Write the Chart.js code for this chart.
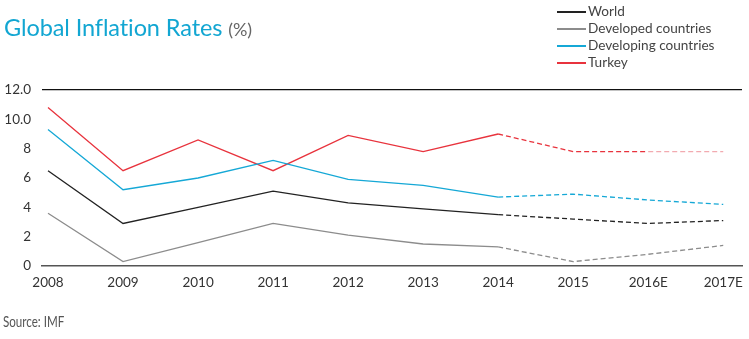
<!DOCTYPE html>
<html>
<head>
<meta charset="utf-8">
<script src="https://cdn.jsdelivr.net/npm/chart.js@4"></script>
<style>
    html, body { margin: 0; padding: 0; background: #fff; }
    #wrap { position: relative; width: 749px; height: 339px; overflow: hidden; }
    #chart { position: absolute; left: 0; top: 0; }
    #title {
        position: absolute; left: 4px; top: 13px;
        font-family: Lato, sans-serif; font-size: 23.5px; color: #12a6d2;
        white-space: nowrap; letter-spacing: -0.1px;
    }
    #title span { color: #666; font-size: 18px; }
    #legend {
        position: absolute; left: 557px; top: 3px;
        font-family: Lato, sans-serif; font-size: 13.6px; color: #444;
    }
    .item { position: relative; height: 17px; line-height: 17px; padding-left: 31px; white-space: nowrap; }
    .swatch { position: absolute; left: 0; top: 8px; width: 29px; height: 2px; }
    #source {
        position: absolute; left: 3px; top: 313px;
        font-family: Lato, sans-serif; font-size: 14.5px; color: #555;
        transform: scaleX(0.8); transform-origin: left top;
    }
</style>
</head>
<body>
<div id="wrap">
    <canvas id="chart" width="749" height="339"></canvas>
    <div id="title">Global Inflation Rates <span>(%)</span></div>
    <div id="legend"></div>
    <div id="source">Source: IMF</div>
</div>
<script>
const years = ['2008', '2009', '2010', '2011', '2012', '2013', '2014', '2015', '2016E', '2017E'];
const seriesNames = ['World', 'Developed countries', 'Developing countries', 'Turkey'];
const seriesColors = ['#222222', '#8c8c8c', '#15a8d6', '#e8333d'];

const world = [6.5, 2.9, 4.0, 5.1, 4.3, 3.9, 3.5, 3.2, 2.9, 3.1];
const developed = [3.6, 0.3, 1.6, 2.9, 2.1, 1.5, 1.3, 0.3, 0.8, 1.4];
const developing = [9.3, 5.2, 6.0, 7.2, 5.9, 5.5, 4.7, 4.9, 4.5, 4.2];
const turkey = [10.8, 6.5, 8.6, 6.5, 8.9, 7.8, 9.0, 7.8, 7.8, 7.8];

const yTicks = [0, 2, 4, 6, 8, 10, 12];

// estimates start after 2014, drawn dashed
const firstForecast = years.indexOf('2014');

function makeDataset(name, values, color) {
    return {
        label: name,
        data: values.map((v, i) => ({ x: i, y: v })),
        borderColor: color,
        borderWidth: 1.3,
        pointRadius: 0,
        tension: 0,
        segment: {
            borderDash: ctx => ctx.p0DataIndex >= firstForecast ? [5, 3] : undefined,
            borderColor: ctx => (name === 'Turkey' && ctx.p0DataIndex >= years.length - 2) ? '#f2aab0' : undefined
        }
    };
}

const allSeries = [world, developed, developing, turkey];
const datasets = allSeries.map((vals, i) => makeDataset(seriesNames[i], vals, seriesColors[i]));

// legend as plain html
const legend = document.getElementById('legend');
seriesNames.forEach((name, i) => {
    const row = document.createElement('div');
    row.className = 'item';
    row.innerHTML = `<span class="swatch" style="background:${seriesColors[i]}"></span>${name}`;
    legend.appendChild(row);
});

const tickFont = { family: 'Lato, sans-serif', size: 13.5 };

new Chart(document.getElementById('chart'), {
    type: 'line',
    data: { datasets: datasets },
    options: {
        responsive: false,
        animation: false,
        layout: { padding: { top: 90, right: 7, left: 0, bottom: 0 } },
        plugins: { legend: { display: false }, tooltip: { enabled: false } },
        scales: {
            x: {
                type: 'linear',
                min: -0.08,
                max: 9.25,
                afterBuildTicks: scale => { scale.ticks = years.map((_, i) => ({ value: i })); },
                afterFit: scale => { scale.height = 73; },
                grid: { display: false },
                border: { display: true, color: '#555', width: 1.5 },
                ticks: {
                    padding: 1,
                    color: '#333',
                    font: tickFont,
                    maxRotation: 0,
                    autoSkip: false,
                    callback: v => years[v]
                }
            },
            y: {
                min: 0,
                max: 12,
                afterBuildTicks: scale => { scale.ticks = yTicks.map(v => ({ value: v })); },
                afterFit: scale => { scale.width = 42; },
                border: { display: false },
                grid: {
                    drawTicks: false,
                    color: ctx => ctx.tick && ctx.tick.value === 12 ? '#111' : 'rgba(0,0,0,0)',
                    lineWidth: 1.2
                },
                ticks: {
                    padding: 11,
                    color: '#333',
                    font: tickFont,
                    callback: v => v >= 10 ? v.toFixed(1) : String(v)
                }
            }
        }
    }
});
</script>
</body>
</html>
